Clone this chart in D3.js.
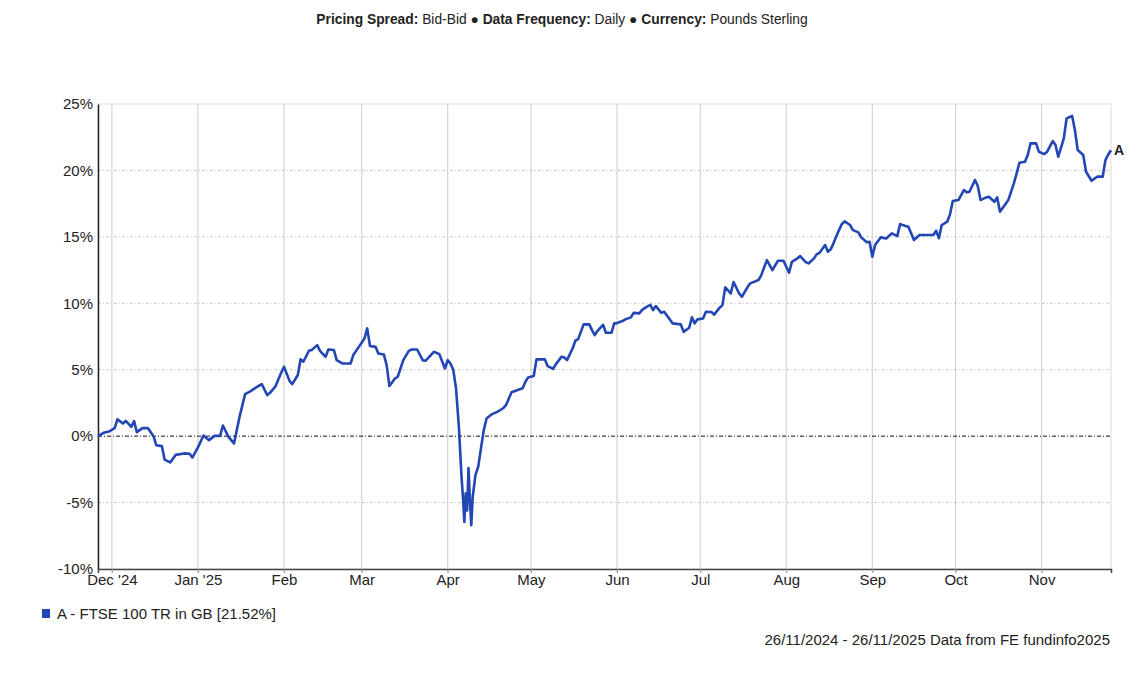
<!DOCTYPE html>
<html>
<head>
<meta charset="utf-8">
<script src="https://cdn.jsdelivr.net/npm/d3@7"></script>
<style>
  body { margin: 0; background: #fff; }
  svg text { font-family: "Liberation Sans", Arial, sans-serif; fill: #222; }
</style>
</head>
<body>
<div id="chart"></div>
<script>
// cumulative return, FTSE 100 TR in GB, 26/11/2024 - 26/11/2025
var dates = [
  "2024-11-26","2024-11-28","2024-11-30","2024-12-02","2024-12-03","2024-12-05","2024-12-06","2024-12-08","2024-12-09","2024-12-10",
  "2024-12-12","2024-12-14","2024-12-16","2024-12-17","2024-12-19","2024-12-20","2024-12-22","2024-12-24","2024-12-27","2024-12-29",
  "2024-12-30","2025-01-01","2025-01-03","2025-01-05","2025-01-07","2025-01-09","2025-01-10","2025-01-12","2025-01-13","2025-01-14",
  "2025-01-16","2025-01-18","2025-01-20","2025-01-22","2025-01-24","2025-01-26","2025-01-27","2025-01-29","2025-01-31","2025-02-01",
  "2025-02-03","2025-02-04","2025-02-06","2025-02-07","2025-02-08","2025-02-10","2025-02-11","2025-02-13","2025-02-14","2025-02-16",
  "2025-02-17","2025-02-19","2025-02-20","2025-02-22","2025-02-25","2025-02-26","2025-02-28","2025-03-02","2025-03-03","2025-03-04",
  "2025-03-06","2025-03-07","2025-03-09","2025-03-10","2025-03-11","2025-03-13","2025-03-14","2025-03-16","2025-03-18","2025-03-19",
  "2025-03-21","2025-03-23","2025-03-24","2025-03-27","2025-03-29","2025-03-31","2025-04-01","2025-04-02","2025-04-03","2025-04-04",
  "2025-04-05","2025-04-06","2025-04-06T12:00","2025-04-07","2025-04-07T12:00","2025-04-08","2025-04-08T12:00","2025-04-09","2025-04-09T12:00","2025-04-10",
  "2025-04-11","2025-04-12","2025-04-13","2025-04-14","2025-04-15","2025-04-17","2025-04-19","2025-04-21","2025-04-22","2025-04-24",
  "2025-04-26","2025-04-28","2025-04-29","2025-04-30","2025-05-02","2025-05-03","2025-05-06","2025-05-07","2025-05-09","2025-05-10",
  "2025-05-12","2025-05-13","2025-05-14","2025-05-16","2025-05-17","2025-05-18","2025-05-20","2025-05-22","2025-05-23","2025-05-24",
  "2025-05-25","2025-05-27","2025-05-28","2025-05-30","2025-05-31","2025-06-01","2025-06-03","2025-06-04","2025-06-06","2025-06-07",
  "2025-06-09","2025-06-10","2025-06-11","2025-06-13","2025-06-14","2025-06-15","2025-06-17","2025-06-18","2025-06-20","2025-06-21",
  "2025-06-24","2025-06-25","2025-06-27","2025-06-28","2025-06-29","2025-06-30","2025-07-02","2025-07-03","2025-07-05","2025-07-06",
  "2025-07-08","2025-07-09","2025-07-10","2025-07-12","2025-07-13","2025-07-15","2025-07-16","2025-07-18","2025-07-19","2025-07-22",
  "2025-07-23","2025-07-25","2025-07-26","2025-07-27","2025-07-29","2025-07-31","2025-08-02","2025-08-03","2025-08-05","2025-08-06",
  "2025-08-08","2025-08-09","2025-08-11","2025-08-12","2025-08-13","2025-08-15","2025-08-16","2025-08-17","2025-08-18","2025-08-20",
  "2025-08-21","2025-08-22","2025-08-24","2025-08-25","2025-08-27","2025-08-28","2025-08-30","2025-08-31","2025-09-01","2025-09-02",
  "2025-09-04","2025-09-06","2025-09-08","2025-09-10","2025-09-11","2025-09-13","2025-09-14","2025-09-16","2025-09-18","2025-09-20",
  "2025-09-23","2025-09-24","2025-09-25","2025-09-26","2025-09-28","2025-09-29","2025-09-30","2025-10-02","2025-10-04","2025-10-05",
  "2025-10-06","2025-10-08","2025-10-09","2025-10-10","2025-10-12","2025-10-13","2025-10-15","2025-10-16","2025-10-17","2025-10-19",
  "2025-10-20","2025-10-22","2025-10-23","2025-10-24","2025-10-26","2025-10-27","2025-10-28","2025-10-30","2025-10-31","2025-11-02",
  "2025-11-03","2025-11-05","2025-11-06","2025-11-07","2025-11-09","2025-11-10","2025-11-12","2025-11-13","2025-11-14","2025-11-16",
  "2025-11-17","2025-11-19","2025-11-21","2025-11-23","2025-11-24","2025-11-25","2025-11-26"
];
var returns = [
  0.00, 0.25, 0.35, 0.60, 1.26, 0.95, 1.15, 0.70, 1.13, 0.30,
  0.60, 0.60, 0.00, -0.68, -0.75, -1.76, -1.98, -1.41, -1.30, -1.33,
  -1.61, -0.85, 0.05, -0.30, 0.02, 0.02, 0.80, -0.05, -0.30, -0.55,
  1.45, 3.16, 3.39, 3.67, 3.92, 3.09, 3.26, 3.77, 4.77, 5.22,
  4.16, 3.92, 4.60, 5.78, 5.60, 6.42, 6.48, 6.85, 6.42, 5.97,
  6.52, 6.48, 5.72, 5.47, 5.47, 6.10, 6.72, 7.35, 8.11, 6.78,
  6.72, 6.22, 6.15, 5.35, 3.77, 4.34, 4.47, 5.72, 6.42, 6.52,
  6.52, 5.72, 5.67, 6.35, 6.17, 5.09, 5.72, 5.47, 5.00, 3.60,
  0.80, -3.10, -4.60, -6.45, -4.30, -5.60, -2.40, -4.80, -6.70, -4.60,
  -2.94, -2.30, -0.90, 0.45, 1.33, 1.66, 1.85, 2.10, 2.33, 3.30,
  3.46, 3.60, 4.09, 4.42, 4.52, 5.78, 5.78, 5.27, 5.07, 5.42,
  5.97, 5.92, 5.72, 6.60, 7.18, 7.30, 8.41, 8.41, 7.98, 7.60,
  7.93, 8.38, 7.78, 7.78, 8.49, 8.51, 8.66, 8.79, 8.94, 9.28,
  9.24, 9.49, 9.64, 9.89, 9.49, 9.79, 9.28, 9.36, 8.79, 8.49,
  8.41, 7.85, 8.16, 8.94, 8.49, 8.79, 8.85, 9.35, 9.34, 9.15,
  9.67, 9.86, 11.20, 10.74, 11.60, 10.74, 10.49, 11.20, 11.50, 11.75,
  12.12, 13.25, 12.88, 12.50, 13.20, 13.20, 12.30, 13.12, 13.38, 13.55,
  13.10, 13.00, 13.38, 13.70, 13.80, 14.38, 13.88, 14.06, 14.51, 15.51,
  15.96, 16.17, 15.89, 15.51, 15.34, 14.96, 14.59, 14.63, 13.50, 14.38,
  14.96, 14.88, 15.26, 15.06, 15.96, 15.81, 15.76, 14.76, 15.14, 15.14,
  15.14, 15.46, 14.90, 15.89, 16.14, 16.70, 17.70, 17.77, 18.52, 18.35,
  18.40, 19.28, 18.83, 17.77, 17.97, 18.02, 17.64, 17.97, 16.89, 17.47,
  17.77, 19.03, 19.78, 20.58, 20.66, 21.16, 22.04, 22.04, 21.41, 21.23,
  21.41, 22.21, 21.91, 21.03, 22.41, 23.92, 24.10, 23.04, 21.54, 21.16,
  19.90, 19.22, 19.53, 19.53, 20.78, 21.20, 21.52
];
var monthTicks = ["2024-12-01","2025-01-01","2025-02-01","2025-03-01","2025-04-01","2025-05-01",
  "2025-06-01","2025-07-01","2025-08-01","2025-09-01","2025-10-01","2025-11-01"];
var monthLabels = ["Dec '24","Jan '25","Feb","Mar","Apr","May","Jun","Jul","Aug","Sep","Oct","Nov"];
var yTicks = [-10, -5, 0, 5, 10, 15, 20, 25];
var seriesLabel = "A";
var seriesName = "A - FTSE 100 TR in GB [21.52%]";
var period = ["2024-11-26", "2025-11-26"];

var W = 1148, H = 676;
var margin = {top: 104, right: 37, bottom: 107, left: 98};
var innerW = W - margin.left - margin.right;
var innerH = H - margin.top - margin.bottom;
var lineColor = "#2246b4";
var labelSize = 15;

var data = dates.map(function(d, i){ return {date: d3.isoParse(d), v: returns[i]}; });

var svg = d3.select("#chart").append("svg")
  .attr("width", W)
  .attr("height", H);

// header
var title = svg.append("text")
  .attr("x", 562)
  .attr("y", 24)
  .attr("text-anchor", "middle")
  .attr("font-size", 13.8);
[["Pricing Spread:", true], [" Bid-Bid ● ", false], ["Data Frequency:", true], [" Daily ● ", false],
 ["Currency:", true], [" Pounds Sterling", false]].forEach(function(p){
  title.append("tspan").attr("font-weight", p[1] ? "bold" : "normal").text(p[0]);
});

var g = svg.append("g").attr("transform", "translate(" + margin.left + "," + margin.top + ")");

var x = d3.scaleTime()
  .domain([d3.isoParse(period[0]), d3.isoParse(period[1])])
  .range([0, innerW]);
var y = d3.scaleLinear().domain([-10, 25]).range([innerH, 0]);

// frame
g.append("rect")
  .attr("width", innerW).attr("height", innerH)
  .attr("fill", "none").attr("stroke", "#dcdcdc");

// vertical month grid
var tickDates = monthTicks.map(d3.isoParse);
g.selectAll(".vgrid").data(tickDates).enter().append("line")
  .attr("class", "vgrid")
  .attr("x1", function(d){ return x(d); }).attr("x2", function(d){ return x(d); })
  .attr("y1", 0).attr("y2", innerH + 4)
  .attr("stroke", "#d4d4d4").attr("stroke-width", 1.2);

// horizontal grid
g.selectAll(".hgrid").data(yTicks.filter(function(t){ return t !== 0 && t !== -10 && t !== 25; }))
  .enter().append("line")
  .attr("class", "hgrid")
  .attr("x1", 0).attr("x2", innerW)
  .attr("y1", function(d){ return y(d); }).attr("y2", function(d){ return y(d); })
  .attr("stroke", "#c8c8c8").attr("stroke-dasharray", "3,2,1,2");

// zero line
g.append("line")
  .attr("x1", 0).attr("x2", innerW)
  .attr("y1", y(0)).attr("y2", y(0))
  .attr("stroke", "#111").attr("stroke-dasharray", "4,2,1,2");

// axes
var yAxis = d3.axisLeft(y).tickValues(yTicks).tickSize(0).tickPadding(5)
  .tickFormat(function(d){ return d + "%"; });
g.append("g").call(yAxis)
  .call(function(s){ s.select(".domain").attr("stroke", "#222").attr("stroke-width", 1.5); })
  .selectAll("text").attr("font-size", labelSize).attr("fill", "#333")
  .attr("font-family", "'Liberation Sans', Arial, sans-serif");

var xAxis = d3.axisBottom(x).tickValues(tickDates).tickSize(4).tickPadding(1)
  .tickFormat(function(d, i){ return monthLabels[i]; });
g.append("g").attr("transform", "translate(0," + innerH + ")").call(xAxis)
  .call(function(s){
    s.select(".domain").attr("stroke", "#444").attr("stroke-width", 1.5);
    s.selectAll(".tick line").attr("stroke", "#999");
  })
  .selectAll("text").attr("font-size", labelSize).attr("fill", "#333")
  .attr("font-family", "'Liberation Sans', Arial, sans-serif");

// series line
var line = d3.line()
  .x(function(d){ return x(d.date); })
  .y(function(d){ return y(d.v); });
g.append("path").datum(data)
  .attr("d", line)
  .attr("fill", "none")
  .attr("stroke", lineColor)
  .attr("stroke-width", 2.6)
  .attr("stroke-linejoin", "round");

var last = data[data.length - 1];
g.append("text")
  .attr("x", x(last.date) + 3)
  .attr("y", y(last.v) + 5)
  .attr("font-size", 14)
  .attr("font-weight", "bold")
  .text(seriesLabel);

// legend
svg.append("rect")
  .attr("x", 42).attr("y", 609).attr("width", 8).attr("height", 9)
  .attr("fill", lineColor);
svg.append("text")
  .attr("x", 57).attr("y", 619)
  .attr("font-size", labelSize).attr("fill", "#333")
  .text(seriesName);

// footer
var fmt = d3.timeFormat("%d/%m/%Y");
svg.append("text")
  .attr("x", 1110).attr("y", 645)
  .attr("text-anchor", "end")
  .attr("font-size", labelSize).attr("fill", "#333")
  .text(fmt(d3.isoParse(period[0])) + " - " + fmt(d3.isoParse(period[1])) + " Data from FE fundinfo2025");
</script>
</body>
</html>
